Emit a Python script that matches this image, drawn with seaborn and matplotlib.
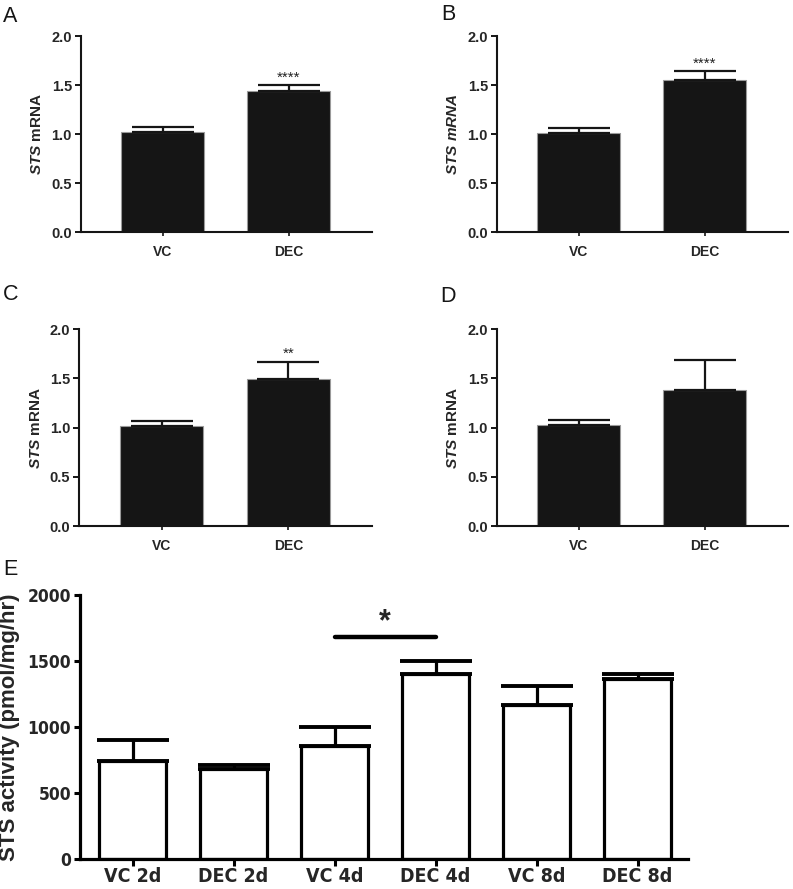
import numpy as np
import pandas as pd
import matplotlib
matplotlib.use("Agg")
import matplotlib.pyplot as plt
from matplotlib import font_manager
import seaborn as sns

# ---- data ----
groups = ["VC", "DEC"]

a_mean = [1.02, 1.435]
a_sem = [0.052, 0.062]
b_mean = [1.015, 1.555]
b_sem = [0.051, 0.085]
c_mean = [1.02, 1.497]
c_sem = [0.044, 0.173]
d_mean = [1.023, 1.385]
d_sem = [0.049, 0.302]

a_stars = "****"
b_stars = "****"
c_stars = "**"
d_stars = ""

e_groups = ["VC 2d", "DEC 2d", "VC 4d", "DEC 4d", "VC 8d", "DEC 8d"]
e_mean = [745, 683, 855, 1405, 1165, 1362]
e_sem = [158, 28, 147, 92, 146, 36]
e_sig_pair = ("VC 4d", "DEC 4d")
e_sig_level = 1685
e_sig_text = "*"

sns.set_theme(style="ticks")


def is_bold(w):
    if isinstance(w, str):
        return w in ("bold", "heavy", "black", "extra bold", "semibold", "demibold")
    return w >= 600


# an upright condensed bold face, if one is installed
cands = sorted({f.fname for f in font_manager.fontManager.ttflist
                if ("Narrow" in f.name or "Condensed" in f.name
                    or f.stretch in ("condensed", "semi-condensed"))
                and is_bold(f.weight) and f.style == "normal"})
if cands:
    tick_font = font_manager.FontProperties(fname=cands[0])
    xsize, ysize = 14, 12.5
else:
    tick_font = font_manager.FontProperties(family="Liberation Sans",
                                            weight="bold")
    xsize, ysize = 13.5, 12
plt.rcParams["font.family"] = ["Liberation Sans", "DejaVu Sans"]
plt.rcParams["mathtext.fontset"] = "custom"
plt.rcParams["mathtext.it"] = "Liberation Sans:italic:bold"
plt.rcParams["mathtext.bf"] = "Liberation Sans:bold"
plt.rcParams["mathtext.rm"] = "Liberation Sans:bold"

fig = plt.figure(figsize=(7.93, 8.89), dpi=100)


def small_panel(rect, means, sems, stars, ylabel):
    ax = fig.add_axes(rect)
    df = pd.DataFrame({"group": groups, "value": means})
    sns.barplot(data=df, x="group", y="value", ax=ax, color="#151515",
                saturation=1, width=0.66, edgecolor="#9a9a9a", linewidth=0.8,
                errorbar=None)
    ax.errorbar(x=np.arange(len(groups)), y=means,
                yerr=[np.zeros(len(groups)), sems], fmt="none",
                ecolor="#151515", elinewidth=1.6, capsize=22, capthick=1.6,
                zorder=1)
    if stars:
        ax.text(1, means[1] + sems[1] + 0.08, stars, ha="center", va="center",
                fontsize=11, color="#222222")
    ax.set_ylim(0, 2.0)
    ax.set_xlim(-0.65, 1.66)
    ax.set_yticks([0, 0.5, 1.0, 1.5, 2.0])
    ax.set_yticklabels(["0.0", "0.5", "1.0", "1.5", "2.0"])
    ax.set_xlabel("")
    ax.set_ylabel(ylabel, fontsize=11, fontweight="bold", labelpad=5)
    for lab in ax.get_xticklabels() + ax.get_yticklabels():
        lab.set_fontweight("bold")
    ax.tick_params(axis="y", labelsize=10.5, length=4.5, width=1.4, pad=2,
                   color="#151515")
    ax.tick_params(axis="x", labelsize=10, length=3, width=1.2, pad=6,
                   color="#151515")
    sns.despine(ax=ax)
    for s in ["left", "bottom"]:
        ax.spines[s].set_linewidth(1.5)
        ax.spines[s].set_color("#151515")
    return ax


small_panel([0.1021, 0.739, 0.367, 0.2205], a_mean, a_sem, a_stars,
            r"$\mathit{STS}$ mRNA")
small_panel([0.6267, 0.739, 0.367, 0.2205], b_mean, b_sem, b_stars,
            r"$\mathit{STS\ mRNA}$")
small_panel([0.1000, 0.4083, 0.369, 0.2216], c_mean, c_sem, c_stars,
            r"$\mathit{STS}$ mRNA")
small_panel([0.6267, 0.4083, 0.367, 0.2216], d_mean, d_sem, d_stars,
            r"$\mathit{STS}$ mRNA")

# ---- panel E ----
ax = fig.add_axes([0.1009, 0.0337, 0.7667, 0.297])
dfe = pd.DataFrame({"group": e_groups, "value": e_mean})
sns.barplot(data=dfe, x="group", y="value", ax=ax, color="white",
            saturation=1, width=0.67, edgecolor="black", linewidth=2.3,
            errorbar=None)
ax.errorbar(x=np.arange(len(e_groups)), y=e_mean,
            yerr=[np.zeros(len(e_groups)), e_sem], fmt="none",
            ecolor="black", elinewidth=2.3, capsize=26, capthick=2.8,
            zorder=1)
i0, i1 = e_groups.index(e_sig_pair[0]), e_groups.index(e_sig_pair[1])
ax.plot([i0, i1], [e_sig_level, e_sig_level], color="black", lw=3.2,
        solid_capstyle="round")
ax.text((i0 + i1) / 2, e_sig_level + 110, e_sig_text, ha="center",
        va="center", fontsize=22, fontweight="bold")
ax.set_ylim(0, 2000)
ax.set_xlim(-0.52, 5.5)
ax.set_yticks([0, 500, 1000, 1500, 2000])
ax.set_xlabel("")
ax.set_ylabel("STS activity (pmol/mg/hr)", fontsize=16, fontweight="bold")
ax.yaxis.set_label_coords(-0.099, 0.5)
for lab in ax.get_xticklabels():
    lab.set_fontproperties(tick_font)
    lab.set_fontsize(xsize)
for lab in ax.get_yticklabels():
    lab.set_fontproperties(tick_font)
    lab.set_fontsize(ysize)
ax.tick_params(axis="y", length=4.5, width=2.2, pad=2, color="black")
ax.tick_params(axis="x", length=5, width=2.2, pad=0.5, color="black")
sns.despine(ax=ax)
for s in ["left", "bottom"]:
    ax.spines[s].set_linewidth(2.3)
    ax.spines[s].set_color("black")

# ---- panel letters ----
for x, y, t in [(3, 6, "A"), (441, 4, "B"), (3, 284, "C"), (440, 286, "D"),
                (3, 559, "E")]:
    fig.text(x / 793, 1 - y / 889, t, ha="left", va="top", fontsize=15.5,
             color="#151515")

fig.savefig("out.png", dpi=100)
